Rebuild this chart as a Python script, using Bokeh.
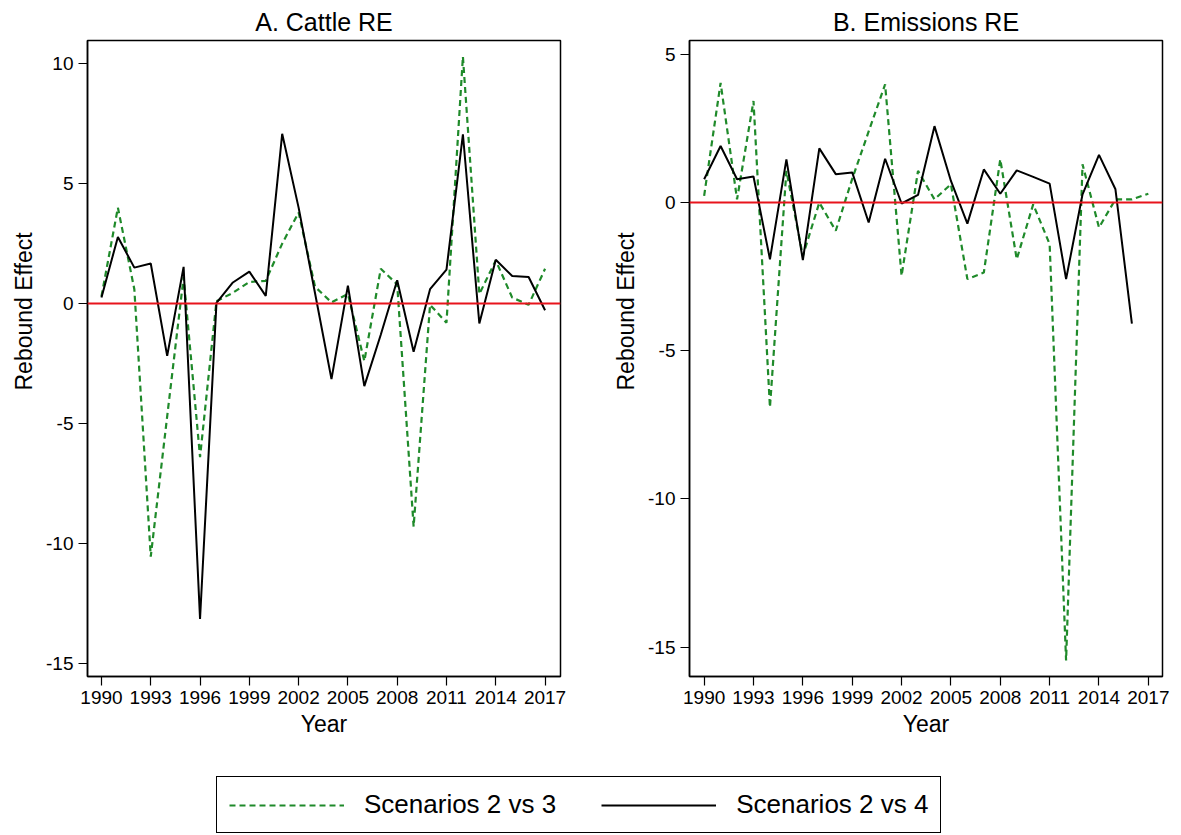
from bokeh.plotting import figure
from bokeh.models import FixedTicker, Span, Legend, LegendItem, Range1d, Title
from bokeh.layouts import column, row
from bokeh.embed import file_html
from bokeh.resources import INLINE

nan = float("nan")

years = list(range(1990, 2018))
x_ticks = [1990, 1993, 1996, 1999, 2002, 2005, 2008, 2011, 2014, 2017]
y_ticks_a = [-15, -10, -5, 0, 5, 10]
y_ticks_b = [-15, -10, -5, 0, 5]

series_names = ["Scenarios 2 vs 3", "Scenarios 2 vs 4"]
panel_titles = ["A. Cattle RE", "B. Emissions RE"]
x_title = "Year"
y_title = "Rebound Effect"

# Panel A: Cattle RE
cattle_2v3 = [0.3, 4.0, 0.6, -10.55, -4.7, 1.1, -6.4, 0.1, 0.45, 0.9,
              0.95, 2.5, 3.8, 0.7, 0.05, 0.4, -2.4, 1.45, 0.8, -9.3,
              -0.05, -0.8, 10.3, 0.4, 1.8, 0.25, -0.05, 1.45]
cattle_2v4 = [0.25, 2.78, 1.5, 1.67, -2.18, 1.53, -13.15, 0.03, 0.88, 1.33,
              0.32, 7.08, 4.0, 0.43, -3.15, 0.75, -3.44, -1.3, 0.97, -2.01,
              0.6, 1.42, 7.06, -0.83, 1.83, 1.15, 1.11, -0.28]

# Panel B: Emissions RE
emis_2v3 = [0.23, 4.04, 0.11, 3.43, -6.91, 1.07, -1.8, 0.0, -0.95, 0.8,
            2.4, 3.99, -2.47, 1.07, 0.11, 0.62, -2.58, -2.36, 1.46, -1.91,
            -0.06, -1.4, -15.45, 1.29, -0.84, 0.11, 0.11, 0.3]
emis_2v4 = [0.79, 1.91, 0.79, 0.88, -1.91, 1.46, -1.94, 1.83, 0.96, 1.02,
            -0.67, 1.48, -0.03, 0.26, 2.58, 0.73, -0.71, 1.12, 0.3, 1.09,
            0.87, 0.64, -2.58, 0.28, 1.61, 0.45, -4.08, nan]

GREEN = "#1f8a2a"
FONT = "Liberation Sans"


def make_panel(title, y_green, y_black, width, bl, br, yr, xr, yticks):
    p = figure(width=width, height=744, title=title,
               x_range=Range1d(*xr), y_range=Range1d(*yr),
               output_backend="svg", toolbar_location=None,
               min_border_left=bl, min_border_right=br,
               min_border_top=39, min_border_bottom=68)
    p.title.text_font = FONT
    p.title.text_font_size = "25px"
    p.title.text_font_style = "normal"
    p.title.text_color = "black"
    p.title.align = "center"
    p.title.standoff = 10
    p.xgrid.grid_line_color = None
    p.ygrid.grid_line_color = None
    p.outline_line_color = "black"
    p.outline_line_width = 1.5
    p.outline_line_alpha = 1.0

    p.xaxis.ticker = FixedTicker(ticks=x_ticks)
    p.yaxis.ticker = FixedTicker(ticks=yticks)
    p.yaxis.major_label_overrides = {t: str(t) for t in yticks}
    p.xaxis.axis_label = x_title
    for ax in (p.xaxis[0], p.yaxis[0]):
        ax.axis_line_width = 1.5
        ax.axis_line_color = "black"
        ax.major_tick_line_width = 1.2
        ax.major_tick_line_color = "black"
        ax.major_tick_out = 9
        ax.major_tick_in = 0
        ax.minor_tick_out = 0
        ax.minor_tick_in = 0
        ax.major_label_text_font = FONT
        ax.major_label_text_font_size = "19px"
        ax.major_label_text_color = "black"
        ax.major_label_standoff = 5
        ax.axis_label_text_font = FONT
        ax.axis_label_text_font_size = "23px"
        ax.axis_label_text_font_style = "normal"
        ax.axis_label_text_color = "black"
        ax.axis_label_standoff = 4
    p.yaxis.major_label_orientation = "horizontal"

    ytitle = Title(text=y_title, align="left", offset=286, standoff=14,
                   text_font=FONT, text_font_size="23px",
                   text_font_style="normal", text_color="black")
    p.add_layout(ytitle, "left")

    p.add_layout(Span(location=0, dimension="width", line_color="#e8141c", line_width=2))
    p.line(years, y_green, line_color=GREEN, line_width=2.2, line_dash="6 4")
    p.line(years, y_black, line_color="black", line_width=2)
    return p


p1 = make_panel(panel_titles[0], cattle_2v3, cattle_2v4, 603, 87, 43,
                (-15.55, 10.97), (1989.15, 2017.94), y_ticks_a)
p2 = make_panel(panel_titles[1], emis_2v3, emis_2v4, 570, 86, 11,
                (-15.99, 5.47), (1989.11, 2017.86), y_ticks_b)

leg = figure(width=1173, height=90, x_axis_type=None, y_axis_type=None,
             output_backend="svg", toolbar_location=None,
             min_border=0, min_border_left=0, min_border_right=0,
             min_border_top=0, min_border_bottom=0,
             x_range=Range1d(0, 1), y_range=Range1d(0, 1))
leg.outline_line_color = None
leg.xgrid.grid_line_color = None
leg.ygrid.grid_line_color = None
# legend-only renderers, kept outside the visible range
r_green = leg.line([-5, -4], [-5, -5], line_color=GREEN, line_width=2.2, line_dash="6 4")
r_black = leg.line([-5, -4], [-5, -5], line_color="black", line_width=2)
legend = Legend(items=[LegendItem(label=series_names[0], renderers=[r_green]),
                       LegendItem(label=series_names[1], renderers=[r_black])],
                orientation="horizontal", location=(216, 1),
                label_text_font=FONT, label_text_font_size="26px",
                label_text_color="black",
                glyph_width=115, glyph_height=30, label_standoff=20,
                spacing=45, padding=12, margin=0,
                border_line_color="black", border_line_width=1.5,
                border_line_alpha=1.0,
                background_fill_color="white", background_fill_alpha=1.0)
leg.add_layout(legend, "center")

layout = column(row(p1, p2), leg, spacing=0)

open("out.html", "w").write(file_html(layout, INLINE))
